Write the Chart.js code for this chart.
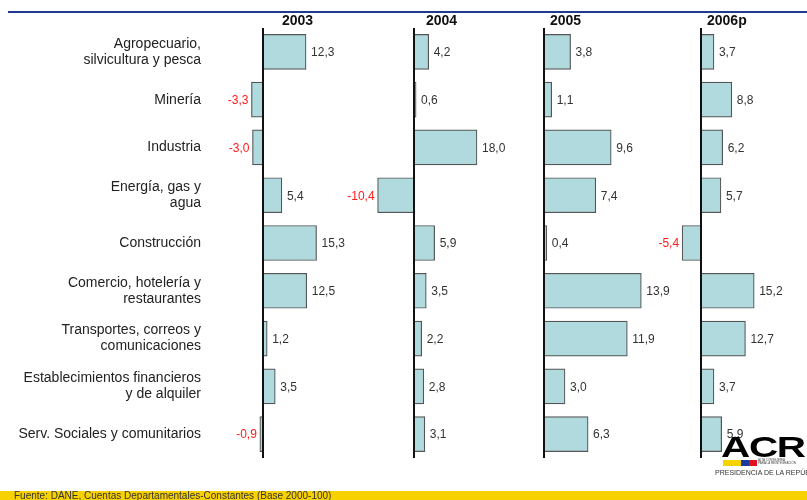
<!DOCTYPE html>
<html>
<head>
<meta charset="utf-8">
<script src="https://cdn.jsdelivr.net/npm/chart.js@4.4.0/dist/chart.umd.min.js"></script>
<style>
  body { margin: 0; background: #fff; font-family: "Liberation Sans", Arial, sans-serif; }
  #wrap { position: relative; width: 807px; height: 500px; overflow: hidden; }
  canvas { position: absolute; left: 0; top: 0; }
  .topline { position: absolute; left: 8px; top: 11px; width: 799px; height: 2px; background: #1f3a8f; }
  .year { position: absolute; top: 12px; font-size: 14px; line-height: 16px; font-weight: bold; color: #111; }
  .footer { position: absolute; left: 0; top: 491px; width: 807px; height: 14px; background: #f8d100; }
  .footer span { position: absolute; left: 14px; top: -1px; font-size: 10px; line-height: 12px; color: #333; }
  .logo { position: absolute; left: 720px; top: 430px; width: 100px; height: 50px; }
  .logo .acr { position: absolute; left: 1px; top: 2px; font-size: 30px; line-height: 30px; font-weight: bold; letter-spacing: -1px; color: #000; transform: scaleX(1.35); transform-origin: left top; }
  .logo .blk { position: absolute; top: 30px; height: 6px; }
  .logo .small { position: absolute; left: 38px; top: 29px; font-size: 3px; line-height: 3px; color: #444; }
  .logo .pres { position: absolute; left: -5px; top: 39px; font-size: 7px; line-height: 8px; color: #333; white-space: nowrap; }
</style>
</head>
<body>
<div id="wrap">
  <canvas id="panel0" width="807" height="500"></canvas>
  <canvas id="panel1" width="807" height="500"></canvas>
  <canvas id="panel2" width="807" height="500"></canvas>
  <canvas id="panel3" width="807" height="500"></canvas>
  <div class="topline"></div>
  <div class="year" id="year0" style="left:282px"></div>
  <div class="year" id="year1" style="left:426px"></div>
  <div class="year" id="year2" style="left:550px"></div>
  <div class="year" id="year3" style="left:707px"></div>
  <div class="logo">
    <div class="acr">ACR</div>
    <div class="blk" style="left:3px;width:18px;background:#f6d200"></div>
    <div class="blk" style="left:21px;width:8px;background:#1c3b9a"></div>
    <div class="blk" style="left:29px;width:8px;background:#e0101e"></div>
    <div class="small">ALTA CONSEJERÍA<br>PARA LA REINTEGRACIÓN</div>
    <div class="pres">PRESIDENCIA DE LA REPÚBLICA</div>
  </div>
  <div class="footer"><span>Fuente: DANE, Cuentas Departamentales-Constantes (Base 2000-100)</span></div>
</div>

<script>
// Sectors (two-line labels as arrays)
const categories = [
    ['Agropecuario,', 'silvicultura y pesca'],
    'Minería',
    'Industria',
    ['Energía, gas y', 'agua'],
    'Construcción',
    ['Comercio, hotelería y', 'restaurantes'],
    ['Transportes, correos y', 'comunicaciones'],
    ['Establecimientos financieros', 'y de alquiler'],
    'Serv. Sociales y comunitarios'
];

const years = ['2003', '2004', '2005', '2006p'];

// Growth per sector, one list per year
const values2003 = [12.3, -3.3, -3.0, 5.4, 15.3, 12.5, 1.2, 3.5, -0.9];
const values2004 = [4.2, 0.6, 18.0, -10.4, 5.9, 3.5, 2.2, 2.8, 3.1];
const values2005 = [3.8, 1.1, 9.6, 7.4, 0.4, 13.9, 11.9, 3.0, 6.3];
const values2006 = [3.7, 8.8, 6.2, 5.7, -5.4, 15.2, 12.7, 3.7, 5.9];

const seriesByYear = [values2003, values2004, values2005, values2006];

// Where each panel sits: pixel of zero, pixels per unit, axis range
const panels = [
    { zero: 263, ppu: 3.5, min: -16, max: 20 },
    { zero: 414, ppu: 3.5, min: -20, max: 20 },
    { zero: 544, ppu: 7.0, min: -2, max: 18 },
    { zero: 701, ppu: 3.5, min: -16, max: 28 }
];

const PLOT_TOP = 28;
const PLOT_BOTTOM = 458;
const W = 807, H = 500;

Chart.defaults.font.family = '"Liberation Sans", Arial, sans-serif';

// draws the zero axis and the value next to each bar
const barLabels = {
    id: 'barLabels',
    afterDatasetsDraw(chart) {
        const ctx = chart.ctx;
        const x0 = chart.scales.x.getPixelForValue(0);
        ctx.save();
        ctx.strokeStyle = '#111';
        ctx.lineWidth = 2;
        ctx.beginPath();
        ctx.moveTo(x0, chart.chartArea.top);
        ctx.lineTo(x0, chart.chartArea.bottom);
        ctx.stroke();

        ctx.font = '12px "Liberation Sans", Arial, sans-serif';
        ctx.textBaseline = 'middle';
        const data = chart.data.datasets[0].data;
        chart.getDatasetMeta(0).data.forEach(function(bar, i) {
            const v = data[i];
            const txt = v.toFixed(1).replace('.', ',');
            if (v < 0) {
                ctx.fillStyle = '#ff1a1a';
                ctx.textAlign = 'right';
                ctx.fillText(txt, bar.x - 3, bar.y + 1);
            } else {
                ctx.fillStyle = '#333';
                ctx.textAlign = 'left';
                ctx.fillText(txt, bar.x + 5, bar.y + 1);
            }
        });
        ctx.restore();
    }
};

function makePanel(idx) {
    const p = panels[idx];
    const left = p.zero + p.min * p.ppu;
    const right = p.zero + p.max * p.ppu;
    const withLabels = idx === 0;

    new Chart(document.getElementById('panel' + idx).getContext('2d'), {
        type: 'bar',
        data: {
            labels: categories,
            datasets: [{
                label: years[idx],
                data: seriesByYear[idx],
                backgroundColor: '#b0dadd',
                borderColor: '#555',
                borderWidth: 1.2,
                barThickness: 35
            }]
        },
        options: {
            indexAxis: 'y',
            responsive: false,
            animation: false,
            devicePixelRatio: 1,
            layout: {
                padding: {
                    left: withLabels ? 0 : left,
                    right: W - right,
                    top: PLOT_TOP,
                    bottom: H - PLOT_BOTTOM
                }
            },
            plugins: {
                legend: { display: false },
                tooltip: { enabled: false }
            },
            scales: {
                x: {
                    display: false,
                    min: p.min,
                    max: p.max
                },
                y: {
                    display: withLabels,
                    grid: { display: false, drawTicks: false },
                    border: { display: false },
                    ticks: {
                        autoSkip: false,
                        padding: 6,
                        color: '#222',
                        font: { size: 14, lineHeight: 1.15 }
                    },
                    afterFit: function(scale) {
                        if (withLabels) scale.width = left;
                    }
                }
            }
        },
        plugins: [barLabels]
    });
}

window.onload = function() {
    years.forEach(function(y, i) {
        document.getElementById('year' + i).textContent = y;
        makePanel(i);
    });
};
</script>
</body>
</html>
